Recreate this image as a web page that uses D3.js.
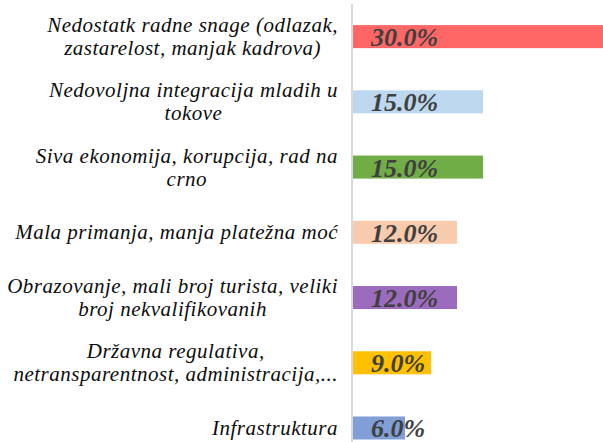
<!DOCTYPE html>
<html>
<head>
<meta charset="utf-8">
<script src="https://cdn.jsdelivr.net/npm/d3@7"></script>
<style>
  html, body { margin: 0; padding: 0; background: #fff; }
  svg { display: block; }
</style>
</head>
<body>
<svg id="chart" width="603" height="442"></svg>
<script>
// Problem categories (each entry split into its display lines)
const categories = [
  ["Nedostatk radne snage (odlazak,", "zastarelost, manjak kadrova)"],
  ["Nedovoljna integracija mladih u", "tokove"],
  ["Siva ekonomija, korupcija, rad na", "crno"],
  ["Mala primanja, manja platežna moć"],
  ["Obrazovanje, mali broj turista, veliki", "broj nekvalifikovanih"],
  ["Državna regulativa,", "netransparentnost, administracija,..."],
  ["Infrastruktura"]
];
// Share of respondents, percent
const values = [30.0, 15.0, 15.0, 12.0, 12.0, 9.0, 6.0];
const barColors = ["#FF6666", "#BDD7EE", "#70AD47", "#F8CBAD", "#9B6CBE", "#FFC000", "#7F9FD6"];

const svg = d3.select("#chart");
const W = 603, H = 442;
const axisX = 353;

const x = d3.scaleLinear().domain([0, 30]).range([axisX, axisX + 260]);
const y = d3.scaleBand()
  .domain(d3.range(categories.length))
  .range([4, 460.6])
  .paddingInner(0.647)
  .paddingOuter(0.3235);

const clip = svg.append("defs").append("clipPath").attr("id", "plotclip");
clip.append("rect").attr("x", 0).attr("y", 0).attr("width", W).attr("height", H);

const plot = svg.append("g").attr("clip-path", "url(#plotclip)");

// Bars
plot.selectAll("rect.bar")
  .data(values)
  .join("rect")
  .attr("class", "bar")
  .attr("x", x(0))
  .attr("y", (d, i) => y(i))
  .attr("width", d => x(d) - x(0))
  .attr("height", y.bandwidth())
  .attr("fill", (d, i) => barColors[i]);

// Category axis line
plot.append("line")
  .attr("x1", axisX - 1).attr("x2", axisX - 1)
  .attr("y1", 4).attr("y2", H)
  .attr("stroke", "#D9D9D9")
  .attr("stroke-width", 2);

// Value labels at the base of each bar
plot.selectAll("text.val")
  .data(values)
  .join("text")
  .attr("class", "val")
  .attr("x", x(0) + 18)
  .attr("y", (d, i) => y(i) + y.bandwidth() / 2 + 9.5)
  .attr("font-family", "'Liberation Serif', serif")
  .attr("font-style", "italic")
  .attr("font-weight", "bold")
  .attr("font-size", 26)
  .attr("fill", "#404040")
  .text(d => d3.format(".1f")(d) + "%");

// Category labels: multi-line blocks, right edge near the axis, lines centred within the block
const labelRight = 338;
const lineGap = 23;
const labels = svg.selectAll("g.cat")
  .data(categories)
  .join("g")
  .attr("class", "cat");

labels.each(function (lines, i) {
  const g = d3.select(this);
  const cy = y(i) + y.bandwidth() / 2;
  const texts = lines.map((ln, k) => g.append("text")
    .attr("font-family", "'Liberation Serif', serif")
    .attr("font-style", "italic")
    .attr("font-size", 21)
    .attr("letter-spacing", 0.5)
    .attr("fill", "#0d0d0d")
    .attr("text-anchor", "middle")
    .attr("y", cy + 7 + (k - (lines.length - 1) / 2) * lineGap)
    .text(ln));
  const maxW = d3.max(texts, t => t.node().getComputedTextLength());
  texts.forEach(t => t.attr("x", labelRight - maxW / 2));
});
</script>
</body>
</html>
